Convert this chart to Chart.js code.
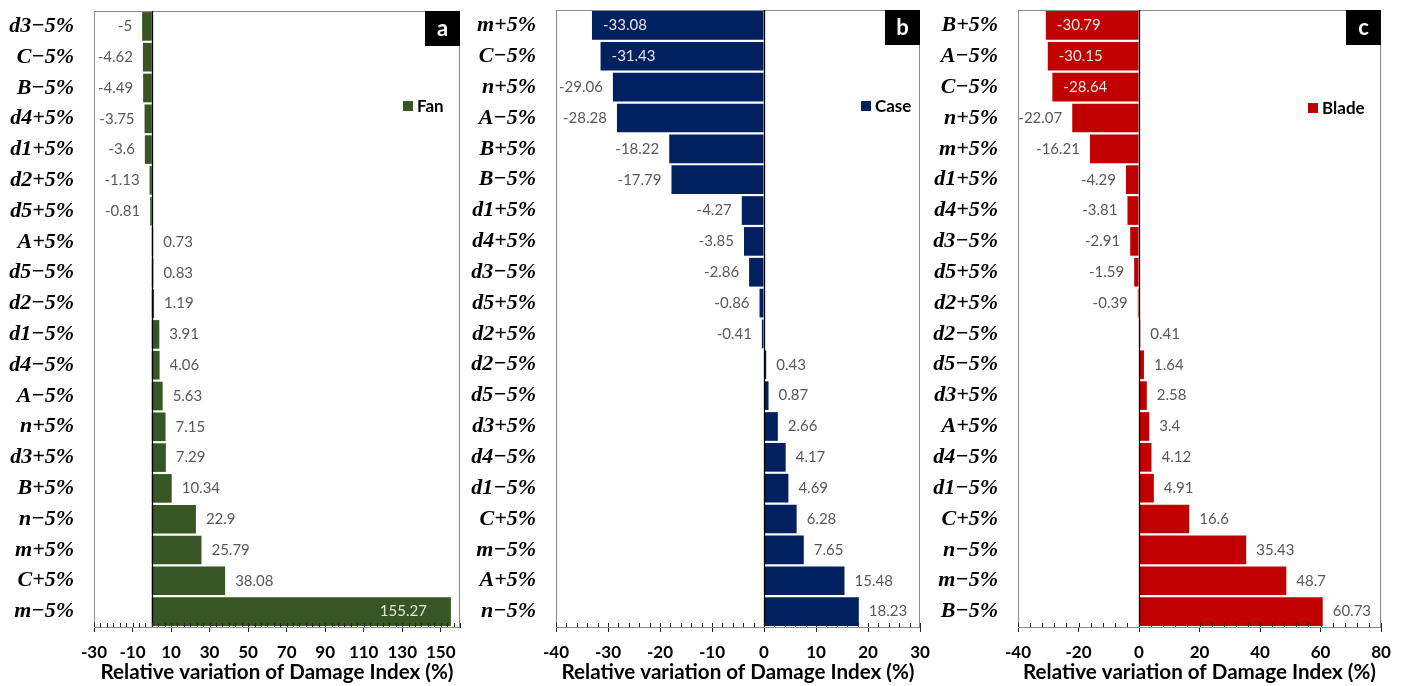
<!DOCTYPE html>
<html>
<head>
<meta charset="utf-8">
<script src="https://cdn.jsdelivr.net/npm/chart.js@4.4.1/dist/chart.umd.min.js"></script>
<style>
  body { margin: 0; background: #fff; }
  #wrap { position: relative; width: 1401px; height: 686px; }
  canvas { position: absolute; top: 0; }
</style>
</head>
<body>
<div id="wrap">
  <canvas id="fanChart" width="470" height="686" style="left:0px"></canvas>
  <canvas id="caseChart" width="470" height="686" style="left:465px"></canvas>
  <canvas id="bladeChart" width="476" height="686" style="left:925px"></canvas>
</div>
<script>
// parametres (haut -> bas) et variations de l'indice de dommage, en %
const fanLabels = ['d3−5%', 'C−5%', 'B−5%', 'd4+5%', 'd1+5%', 'd2+5%', 'd5+5%', 'A+5%', 'd5−5%', 'd2−5%',
  'd1−5%', 'd4−5%', 'A−5%', 'n+5%', 'd3+5%', 'B+5%', 'n−5%', 'm+5%', 'C+5%', 'm−5%'];
const fanValues = [-5, -4.62, -4.49, -3.75, -3.6, -1.13, -0.81, 0.73, 0.83, 1.19,
  3.91, 4.06, 5.63, 7.15, 7.29, 10.34, 22.9, 25.79, 38.08, 155.27];
const fanTicks = [-30, -10, 10, 30, 50, 70, 90, 110, 130, 150];

const caseLabels = ['m+5%', 'C−5%', 'n+5%', 'A−5%', 'B+5%', 'B−5%', 'd1+5%', 'd4+5%', 'd3−5%', 'd5+5%',
  'd2+5%', 'd2−5%', 'd5−5%', 'd3+5%', 'd4−5%', 'd1−5%', 'C+5%', 'm−5%', 'A+5%', 'n−5%'];
const caseValues = [-33.08, -31.43, -29.06, -28.28, -18.22, -17.79, -4.27, -3.85, -2.86, -0.86,
  -0.41, 0.43, 0.87, 2.66, 4.17, 4.69, 6.28, 7.65, 15.48, 18.23];
const caseTicks = [-40, -30, -20, -10, 0, 10, 20, 30];

const bladeLabels = ['B+5%', 'A−5%', 'C−5%', 'n+5%', 'm+5%', 'd1+5%', 'd4+5%', 'd3−5%', 'd5+5%', 'd2+5%',
  'd2−5%', 'd5−5%', 'd3+5%', 'A+5%', 'd4−5%', 'd1−5%', 'C+5%', 'n−5%', 'm−5%', 'B−5%'];
const bladeValues = [-30.79, -30.15, -28.64, -22.07, -16.21, -4.29, -3.81, -2.91, -1.59, -0.39,
  0.41, 1.64, 2.58, 3.4, 4.12, 4.91, 16.6, 35.43, 48.7, 60.73];
const bladeTicks = [-40, -20, 0, 20, 40, 60, 80];

// cadre, ligne du zero, petites graduations, etiquettes, legende et lettre du panneau
const panelPlugin = {
  id: 'panel',
  afterDatasetsDraw(chart, args, opts) {
    const ctx = chart.ctx;
    const area = chart.chartArea;
    const x = chart.scales.x;
    ctx.save();

    // cadre gris
    ctx.strokeStyle = '#8a8a8a';
    ctx.lineWidth = 1;
    ctx.strokeRect(area.left + 0.5, area.top + 0.5, area.width - 1, area.height);

    // axe du zero
    const x0 = Math.round(x.getPixelForValue(0)) + 0.5;
    ctx.strokeStyle = '#000';
    ctx.lineWidth = 1.3;
    ctx.beginPath();
    ctx.moveTo(x0, area.top);
    ctx.lineTo(x0, area.bottom);
    ctx.stroke();

    // graduations secondaires vers l'interieur
    ctx.strokeStyle = '#222';
    ctx.lineWidth = 1;
    ctx.beginPath();
    for (let k = 0; ; k++) {
      const v = x.min + k * opts.minorStep;
      if (v > x.max + 1e-6) break;
      const px = Math.round(x.getPixelForValue(v)) + 0.5;
      ctx.moveTo(px, area.bottom);
      ctx.lineTo(px, area.bottom - 4);
    }
    ctx.stroke();

    // valeurs au bout des barres
    const meta = chart.getDatasetMeta(0);
    const values = chart.data.datasets[0].data;
    ctx.font = '15px Lato';
    ctx.textBaseline = 'middle';
    meta.data.forEach((bar, i) => {
      const v = values[i];
      const txt = String(v);
      const w = ctx.measureText(txt).width;
      if (v >= 0) {
        if (bar.x + 10 + w > area.right) {
          ctx.fillStyle = '#e4e4e4';
          ctx.textAlign = 'right';
          ctx.fillText(txt, bar.x - 24, bar.y);
        } else {
          ctx.fillStyle = '#595959';
          ctx.textAlign = 'left';
          ctx.fillText(txt, bar.x + 10, bar.y);
        }
      } else {
        if (bar.x - 10 - w < area.left) {
          ctx.fillStyle = '#e4e4e4';
          ctx.textAlign = 'left';
          ctx.fillText(txt, bar.x + 11, bar.y);
        } else {
          ctx.fillStyle = '#595959';
          ctx.textAlign = 'right';
          ctx.fillText(txt, bar.x - 10, bar.y);
        }
      }
    });

    // legende
    const ds = chart.data.datasets[0];
    const lx = area.right - opts.legendX;
    const ly = opts.legendY;
    ctx.fillStyle = ds.backgroundColor;
    ctx.fillRect(lx, ly - 5, 10, 10);
    ctx.fillStyle = '#000';
    ctx.font = 'bold 17px Lato';
    ctx.textAlign = 'left';
    ctx.fillText(ds.label, lx + 14, ly + 1);

    // lettre du panneau
    ctx.fillStyle = '#000';
    ctx.fillRect(area.right - 35, area.top, 35, 35);
    ctx.fillStyle = '#fff';
    ctx.font = 'bold 22px Lato';
    ctx.textAlign = 'center';
    ctx.fillText(opts.tag, area.right - 17.5, area.top + 18);

    ctx.restore();
  }
};

function makeChart(id, name, color, labels, values, ticks, min, max, panel) {
  new Chart(document.getElementById(id), {
    type: 'bar',
    data: {
      labels: labels,
      datasets: [{
        label: name,
        data: values,
        backgroundColor: color,
        borderWidth: 0,
        barPercentage: 0.93,
        categoryPercentage: 1
      }]
    },
    options: {
      indexAxis: 'y',
      responsive: false,
      animation: false,
      layout: { padding: { top: panel.top, right: panel.right, left: 0, bottom: 0 } },
      plugins: {
        legend: { display: false },
        tooltip: { enabled: false },
        panel: panel
      },
      scales: {
        y: {
          grid: { display: false },
          border: { display: false },
          ticks: {
            padding: 12,
            color: '#000',
            font: { family: 'Liberation Serif', size: 22, style: 'italic', weight: 'bold' }
          },
          afterFit(scale) {
            scale.width = panel.left;
            scale.paddingTop = 0;
            scale.paddingBottom = 0;
          }
        },
        x: {
          min: min,
          max: max,
          afterBuildTicks(scale) { scale.ticks = ticks.map(v => ({ value: v })); },
          grid: { drawOnChartArea: false, drawTicks: true, tickLength: 5, color: '#222' },
          border: { display: true, color: '#222', width: 1 },
          ticks: {
            autoSkip: false,
            maxRotation: 0,
            padding: 10,
            color: '#000',
            font: { family: 'Lato', size: 17, weight: 'bold' }
          },
          title: {
            display: true,
            text: 'Relative variation of Damage Index (%)',
            color: '#000',
            font: { family: 'Lato', size: 20.6, weight: 'bold' },
            padding: { top: 0, bottom: 1 }
          },
          afterFit(scale) {
            scale.height = 59;
            scale.paddingLeft = 0;
            scale.paddingRight = 0;
          }
        }
      }
    }
  });
}

Chart.register(panelPlugin);

makeChart('fanChart', 'Fan', '#375623', fanLabels, fanValues, fanTicks, -30, 160,
  { tag: 'a', left: 94, right: 10, top: 11, legendX: 57, legendY: 106, minorStep: 20 / 6 });
makeChart('caseChart', 'Case', '#002060', caseLabels, caseValues, caseTicks, -40, 30,
  { tag: 'b', left: 91, right: 15, top: 10, legendX: 59, legendY: 106, minorStep: 2 });
makeChart('bladeChart', 'Blade', '#c00000', bladeLabels, bladeValues, bladeTicks, -40, 80,
  { tag: 'c', left: 93, right: 20, top: 10, legendX: 73, legendY: 108, minorStep: 4 });
</script>
</body>
</html>
